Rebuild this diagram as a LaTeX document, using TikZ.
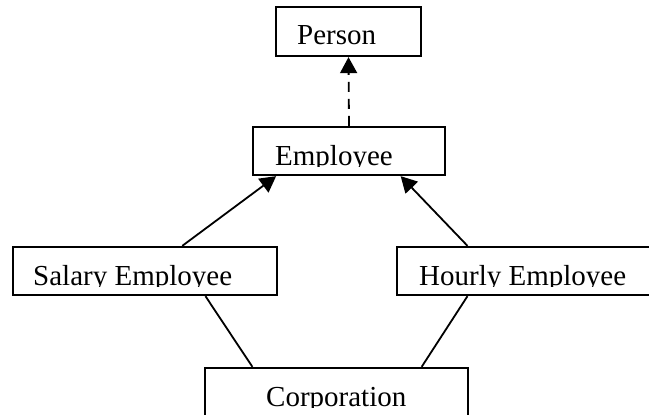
\documentclass[tikz,border=0pt]{standalone}
\usepackage{fontspec}
\setmainfont{Liberation Serif}
\usetikzlibrary{calc,arrows.meta}

\tikzset{
  classbox/.style={draw, line width=2.3pt, inner sep=0pt},
  classname/.style={inner sep=0pt, anchor=base west, font=\fontsize{29}{34}\selectfont},
  link/.style={line width=1.8pt},
  isa/.style={link, -{Triangle[length=16pt,width=17pt]}},
}
% text cut off at its baseline, as in the box frames
\newcommand\cutname[3]{%
  \begin{scope}
    \clip (#2) ++(-5,1) rectangle ++(320,-45);
    \node[classname] (#1) at (#2) {#3};
  \end{scope}}

\begin{document}
\begin{tikzpicture}[x=1pt,y=-1pt]
\useasboundingbox (0,0) rectangle (649,415);
\clip (0,0) rectangle (649,415);

\node[classbox, minimum width=145pt, minimum height=49pt] (person) at (348.5,31.5) {};
\node[classbox, minimum width=192pt, minimum height=48pt] (emp) at (349,151) {};
\node[classbox, minimum width=264pt, minimum height=48pt] (sal) at (145,271) {};
\node[classbox, minimum width=264pt, minimum height=48pt] (hour) at (529,271) {};
\node[classbox, minimum width=263pt, minimum height=52pt] (corp) at (336.5,394) {};

\cutname{personname}{297,45}{Person}
\cutname{empname}{275,165}{Employee}
\cutname{salname}{33,285}{Salary Employee}
\cutname{hourname}{419,285}{Hourly Employee}
\cutname{corpname}{266,406}{Corporation}

\draw[isa, dash pattern=on 10pt off 7pt] (emp.north) -- (person.south);
\draw[isa] ($(sal.north west)!0.64!(sal.north east)$) -- ($(emp.south west)!0.125!(emp.south east)$);
\draw[isa] ($(hour.north west)!0.269!(hour.north east)$) -- ($(emp.south west)!0.766!(emp.south east)$);
\draw[link] ($(sal.south west)!0.727!(sal.south east)$) -- ($(corp.north west)!0.183!(corp.north east)$);
\draw[link] ($(hour.south west)!0.269!(hour.south east)$) -- ($(corp.north west)!0.821!(corp.north east)$);
\end{tikzpicture}
\end{document}
